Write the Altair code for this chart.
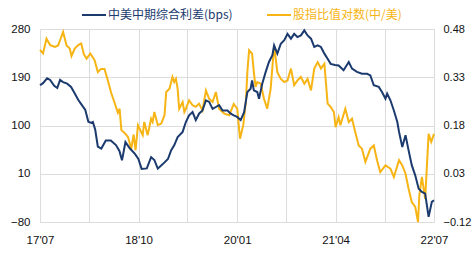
import altair as alt
import pandas as pd

# 中美中期综合利差 (bps) — left axis
spread_dates = [
    "2017-07-01", "2017-07-15", "2017-08-03", "2017-08-17", "2017-09-05", "2017-09-19",
    "2017-10-02", "2017-10-16", "2017-11-04", "2017-11-22", "2017-12-06", "2017-12-25",
    "2018-01-08", "2018-01-27", "2018-02-10", "2018-02-24", "2018-03-03", "2018-03-14",
    "2018-03-26", "2018-04-11", "2018-05-02", "2018-05-25", "2018-06-18", "2018-07-04",
    "2018-07-16", "2018-08-01", "2018-08-22", "2018-09-14", "2018-09-30", "2018-10-15",
    "2018-11-08", "2018-11-28", "2018-12-13", "2018-12-29", "2019-01-21", "2019-02-14",
    "2019-03-01", "2019-03-15", "2019-03-31", "2019-04-23", "2019-05-08", "2019-05-23",
    "2019-06-08", "2019-06-23", "2019-07-08", "2019-07-24", "2019-08-09", "2019-08-24",
    "2019-09-09", "2019-09-24", "2019-10-09", "2019-10-25", "2019-11-17", "2019-12-02",
    "2019-12-16", "2020-01-01", "2020-01-17", "2020-02-02", "2020-02-17", "2020-03-03",
    "2020-03-10", "2020-03-18", "2020-04-03", "2020-04-11", "2020-04-26", "2020-05-12",
    "2020-05-27", "2020-06-12", "2020-06-20", "2020-07-05", "2020-07-21", "2020-08-06",
    "2020-08-21", "2020-09-06", "2020-09-21", "2020-10-06", "2020-10-22", "2020-11-07",
    "2020-11-22", "2020-12-08", "2020-12-23", "2021-01-08", "2021-01-23", "2021-02-08",
    "2021-02-23", "2021-03-09", "2021-03-29", "2021-04-15", "2021-05-08", "2021-06-01",
    "2021-06-16", "2021-07-09", "2021-08-01", "2021-08-25", "2021-09-09", "2021-09-25",
    "2021-10-18", "2021-11-02", "2021-11-18", "2021-11-26", "2021-12-11", "2021-12-27",
    "2022-01-12", "2022-01-20", "2022-02-04", "2022-02-19", "2022-03-05", "2022-03-20",
    "2022-04-05", "2022-04-21", "2022-05-06", "2022-05-21", "2022-06-06", "2022-06-21",
    "2022-07-01",
]
spread_bps = [
    175, 179, 188, 185, 174, 170,
    185, 181, 178, 172, 162, 148,
    140, 129, 107, 105, 106.5, 92,
    60.5, 57, 72, 72, 63.5, 52.5,
    35, 69, 57, 47, 37.5, 19,
    20, 41, 35.5, 19.5, 28, 37.5,
    54, 63, 78.5, 88, 106.5, 119,
    125, 110, 122, 128, 147, 144,
    131, 134.5, 138, 128, 128, 122,
    119, 116, 110, 125, 162.5, 168.5,
    184, 165.5, 162.5, 150, 178, 200,
    218.5, 231, 249.5, 234, 252.5, 259,
    271, 262, 271, 265, 268, 277.5,
    268, 262, 246.5, 249.5, 246.5, 234,
    224.5, 215, 213, 212, 203, 218.5,
    206, 200, 196.5, 196.5, 193.5, 175,
    172, 162.5, 150, 159.5, 147, 128,
    106.5, 88, 60, 82, 54, 26,
    7, -18, -24, -27, -70.5, -42.5,
    -39.5,
]

# 股指比值对数 (中/美) — right axis
ratio_dates = [
    "2017-07-01", "2017-07-15", "2017-07-31", "2017-08-17", "2017-09-08", "2017-09-23",
    "2017-10-02", "2017-10-16", "2017-11-01", "2017-11-16", "2017-11-24", "2017-12-09",
    "2017-12-25", "2018-01-08", "2018-01-20", "2018-02-02", "2018-02-19", "2018-03-11",
    "2018-03-26", "2018-04-10", "2018-04-26", "2018-05-11", "2018-05-27", "2018-06-12",
    "2018-06-27", "2018-07-05", "2018-07-13", "2018-07-28", "2018-08-13", "2018-08-28",
    "2018-09-08", "2018-09-17", "2018-09-28", "2018-10-20", "2018-10-27", "2018-11-12",
    "2018-11-28", "2018-12-05", "2018-12-13", "2018-12-29", "2019-01-14", "2019-01-29",
    "2019-02-06", "2019-02-21", "2019-03-07", "2019-03-15", "2019-03-23", "2019-03-31",
    "2019-04-07", "2019-04-23", "2019-05-01", "2019-05-08", "2019-05-23", "2019-06-08",
    "2019-06-23", "2019-07-08", "2019-07-24", "2019-08-09", "2019-08-24", "2019-09-09",
    "2019-09-24", "2019-10-09", "2019-11-02", "2019-11-25", "2019-12-16", "2020-01-01",
    "2020-01-14", "2020-01-29", "2020-02-10", "2020-02-17", "2020-02-25", "2020-03-10",
    "2020-03-18", "2020-03-26", "2020-04-03", "2020-04-19", "2020-05-04", "2020-05-19",
    "2020-06-04", "2020-06-20", "2020-07-05", "2020-07-21", "2020-08-06", "2020-08-21",
    "2020-09-06", "2020-09-21", "2020-10-06", "2020-10-22", "2020-11-07", "2020-11-22",
    "2020-12-08", "2020-12-23", "2021-01-08", "2021-01-23", "2021-02-08", "2021-02-23",
    "2021-03-09", "2021-03-24", "2021-04-01", "2021-04-15", "2021-04-23", "2021-05-16",
    "2021-06-01", "2021-06-16", "2021-07-01", "2021-07-17", "2021-08-01", "2021-08-17",
    "2021-09-09", "2021-09-25", "2021-10-10", "2021-10-25", "2021-11-18", "2021-12-11",
    "2021-12-27", "2022-01-20", "2022-02-04", "2022-02-19", "2022-03-05", "2022-03-20",
    "2022-04-05", "2022-04-18", "2022-04-24", "2022-05-06", "2022-05-21", "2022-06-06",
    "2022-06-18", "2022-07-01",
]
ratio_log = [
    0.415, 0.404, 0.450, 0.430, 0.424, 0.429,
    0.445, 0.471, 0.429, 0.419, 0.396, 0.419,
    0.430, 0.435, 0.402, 0.388, 0.404, 0.383,
    0.346, 0.356, 0.356, 0.321, 0.281, 0.250,
    0.220, 0.232, 0.166, 0.157, 0.144, 0.108,
    0.152, 0.103, 0.181, 0.150, 0.191, 0.150,
    0.201, 0.191, 0.222, 0.181, 0.186, 0.212,
    0.284, 0.294, 0.331, 0.315, 0.325, 0.294,
    0.232, 0.253, 0.222, 0.232, 0.258, 0.243,
    0.238, 0.248, 0.227, 0.289, 0.263, 0.253,
    0.284, 0.232, 0.217, 0.212, 0.247, 0.232,
    0.139, 0.181, 0.253, 0.346, 0.414, 0.403,
    0.346, 0.300, 0.315, 0.310, 0.263, 0.232,
    0.294, 0.429, 0.346, 0.325, 0.315, 0.320,
    0.357, 0.305, 0.320, 0.331, 0.310, 0.325,
    0.289, 0.357, 0.377, 0.357, 0.372, 0.248,
    0.238, 0.222, 0.175, 0.206, 0.181, 0.232,
    0.191, 0.201, 0.160, 0.118, 0.108, 0.067,
    0.108, 0.118, 0.072, 0.035, 0.056, 0.046,
    0.020, 0.072, 0.056, 0.030, -0.016, -0.058,
    -0.073, -0.120, -0.037, 0.020, -0.048, 0.154,
    0.129, 0.154,
]

left_ticks = [280, 190, 100, 10, -80]
right_ticks = [0.48, 0.33, 0.18, 0.03, -0.12]
x_tick_dates = [(2017, 7, 1), (2018, 2, 15), (2018, 10, 1), (2019, 5, 15), (2020, 1, 1),
                (2020, 8, 15), (2021, 4, 1), (2021, 11, 15), (2022, 7, 1)]

label_spread = "中美中期综合利差(bps)"
label_ratio = "股指比值对数(中/美)"

NAVY = "#1b3a6e"
GOLD = "#f7b515"
GRID = "#dcdcdc"
FONT = "Liberation Sans"
CJK = "Noto Sans CJK SC"
FS = 11.5

df_s = pd.DataFrame({"date": pd.to_datetime(spread_dates), "v": spread_bps})
df_r = pd.DataFrame({"date": pd.to_datetime(ratio_dates), "v": ratio_log})

x_vals = [alt.DateTime(year=y, month=m, date=d) for (y, m, d) in x_tick_dates]
x_enc = alt.X(
    "date:T",
    scale=alt.Scale(domain=[x_vals[0], x_vals[-1]], nice=False),
    axis=alt.Axis(
        values=x_vals,
        labelExpr="date(datum.value) == 1 ? timeFormat(datum.value, \"%y'%m\") : ''",
        title=None, grid=True, gridColor=GRID, domain=False, ticks=False,
        labelPadding=12, labelFontSize=FS, labelColor="#111111", labelFont=FONT,
        labelFlush=False, labelOverlap=False,
    ),
)

ratio_line = alt.Chart(df_r).mark_line(color=GOLD, strokeWidth=2).encode(
    x=x_enc,
    y=alt.Y(
        "v:Q",
        scale=alt.Scale(domain=[-0.12, 0.48], nice=False, zero=False),
        axis=alt.Axis(values=right_ticks, format=".2f", orient="right", title=None,
                      grid=False, domain=False, ticks=False, labelPadding=9,
                      labelFontSize=11, labelColor="#111111", labelFont=FONT),
    ),
)

spread_line = alt.Chart(df_s).mark_line(color=NAVY, strokeWidth=2).encode(
    x=x_enc,
    y=alt.Y(
        "v:Q",
        scale=alt.Scale(domain=[-80, 280], nice=False, zero=False),
        axis=alt.Axis(values=left_ticks, orient="left", title=None,
                      grid=True, gridColor=GRID, domain=False, ticks=False,
                      labelPadding=10, labelFontSize=FS, labelColor="#111111",
                      labelFont=FONT),
    ),
)

one = pd.DataFrame({"k": [0]})
leg1_line = alt.Chart(one).mark_rule(color=NAVY, strokeWidth=2).encode(
    x=alt.value(42), x2=alt.value(66), y=alt.value(-14))
leg1_text = alt.Chart(one).mark_text(
    text=label_spread, align="left", baseline="middle", color=NAVY,
    fontSize=12, font=CJK).encode(x=alt.value(68), y=alt.value(-14))
leg2_line = alt.Chart(one).mark_rule(color=GOLD, strokeWidth=2).encode(
    x=alt.value(227), x2=alt.value(251), y=alt.value(-14))
leg2_text = alt.Chart(one).mark_text(
    text=label_ratio, align="left", baseline="middle", color=GOLD,
    fontSize=12, font=CJK).encode(x=alt.value(253), y=alt.value(-14))

chart = alt.layer(
    ratio_line, spread_line, leg1_line, leg1_text, leg2_line, leg2_text
).resolve_scale(y="independent").properties(
    width=394, height=193,
    padding={"left": 40, "top": 29, "right": 40, "bottom": 46},
    autosize=alt.AutoSizeParams(type="none"),
    background="white",
).configure_view(stroke=None)

chart.save("out.html", embed_options={"renderer": "svg", "actions": False})
